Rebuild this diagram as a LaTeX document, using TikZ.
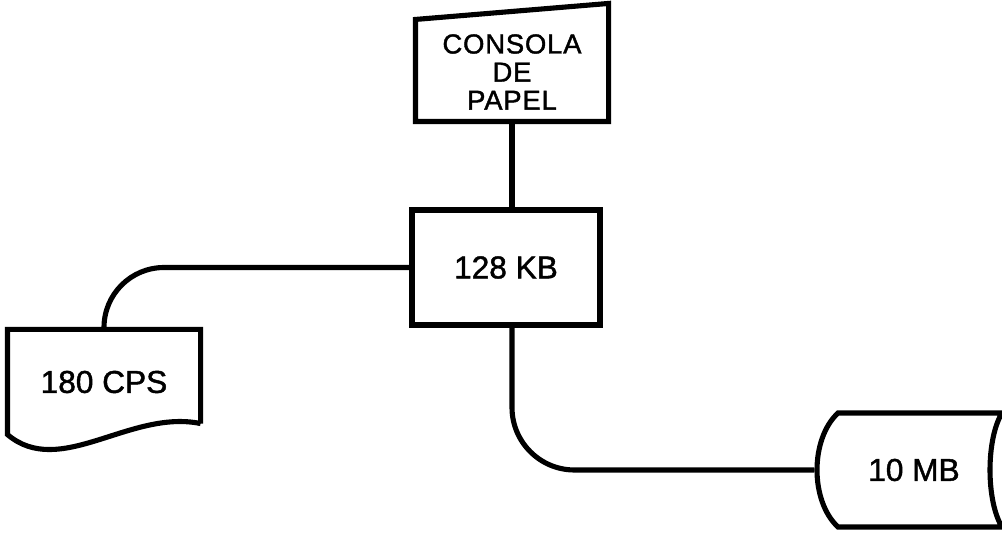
\documentclass[tikz,border=0pt]{standalone}
\usepackage{fontspec}
\setmainfont[FakeBold=1.4]{Liberation Sans}
\usetikzlibrary{calc}

\begin{document}
\begin{tikzpicture}[
  line width=2.9pt,
  unit/.style={draw, minimum width=3.76cm, minimum height=2.3cm, font=\fontsize{18}{21}\selectfont},
  lbl/.style={draw=none, align=center, font=\fontsize{18}{21}\selectfont},
  link/.style={line width=2.9pt, rounded corners=#1},
  link/.default=1.2cm,
]
\useasboundingbox (0,0) rectangle (20.04,10.68);

\node[lbl, minimum width=3.76cm, minimum height=1.88cm, font=\fontsize{15.6}{16}\selectfont\addfontfeature{LetterSpace=3}] (cons) at (10.24,9.24) {CONSOLA\\DE\\PAPEL};
\node[unit] (mem) at (10.12,5.33) {128 KB};
\node[lbl, minimum width=3.76cm, minimum height=2.0cm] (prt) at (2.08,3.04) {180 CPS};
\node[lbl, minimum width=3.88cm, minimum height=2.28cm] (dsk) at (18.28,1.28) {10 MB};

% outlines of the units
\draw (cons.south west) -- ($(cons.north west)+(0,0.06)$) -- ($(cons.north east)+(0,0.38)$) -- (cons.south east) -- cycle;
\draw ($(prt.south east)+(0,0.22)$) -- (prt.north east) -- (prt.north west) -- (prt.south west)
  .. controls (1.2,1.1) and (2.6,2.5) .. ($(prt.south east)+(0,0.22)$);
\draw (16.76,2.42) -- (20.04,2.42) .. controls (19.72,1.9) and (19.72,0.66) .. (20.04,0.14) -- (16.76,0.14)
  .. controls (16.2,0.66) and (16.2,1.9) .. cycle;

\draw[link] (cons.south) -- (cons.south |- mem.north);
\draw[link] (mem.west) -| (prt.north);
\draw[link=1.25cm] (cons.south |- mem.south) |- (dsk.west);

\end{tikzpicture}
\end{document}
